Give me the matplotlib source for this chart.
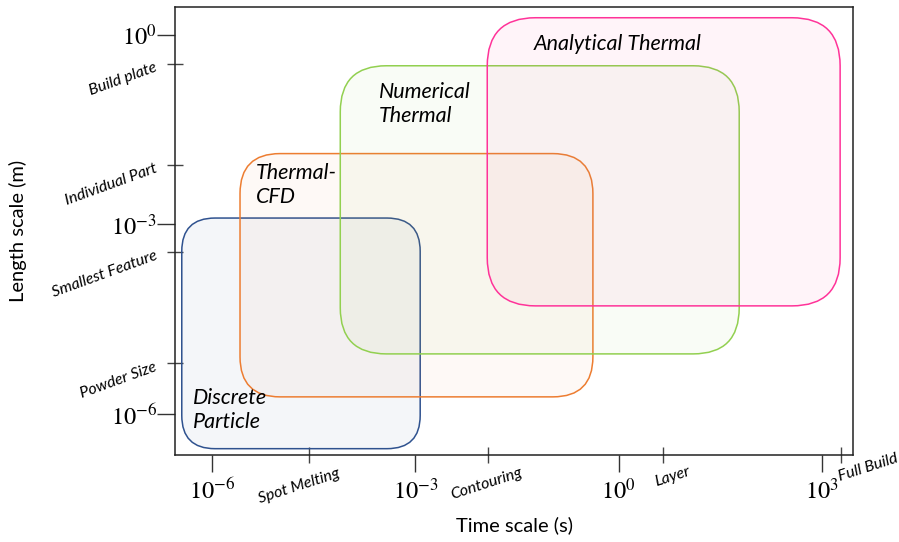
import matplotlib
matplotlib.use("Agg")
import matplotlib.pyplot as plt
from matplotlib.patches import FancyBboxPatch
from matplotlib.colors import to_rgb
from matplotlib.transforms import blended_transform_factory, offset_copy

plt.rcParams['font.family'] = ['Lato', 'DejaVu Sans']
plt.rcParams['mathtext.fontset'] = 'stix'

# ---------------- data (log10 units) ----------------
models = ["Discrete\nParticle", "Thermal-\nCFD", "Numerical\nThermal", "Analytical Thermal"]
t_lo = [-6.45, -5.59, -4.11, -1.94]     # time extent, log10(s)
t_hi = [-2.93, -0.38, 1.78, 3.27]
L_lo = [-6.55, -5.73, -5.05, -4.29]     # length extent, log10(m)
L_hi = [-2.90, -1.88, -0.49, 0.27]
edge = ["#2F528F", "#ED7D31", "#92D050", "#FF3399"]

decades = [-6, -3, 0, 3]
t_names = ["Spot Melting", "Contouring", "Layer", "Full Build"]
t_marks = [-4.57, -1.93, 0.66, 3.28]
L_names = ["Build plate", "Individual Part", "Smallest Feature", "Powder Size"]
L_marks = [-0.46, -2.06, -3.44, -5.19]

# ---------------- layout ----------------
corner = [0.49, 0.59, 0.68, 0.71]        # rounding radius (x units)
alpha = [0.05, 0.045, 0.05, 0.05]
text_xy = [(-6.28, -5.94), (-5.35, -2.38), (-3.54, -1.10), (-1.26, -0.14)]
t_off = [(-9.5, -31), (-1, -29), (9, -22), (27, -13)]   # label centre offsets, px

fig = plt.figure(figsize=(8.99, 5.42), dpi=100)
ax = fig.add_axes([175 / 899, 1 - 455 / 542, 678 / 899, 448 / 542])
ax.set_xlim(-6.55, 3.46)
ax.set_ylim(-6.65, 0.44)

for i in range(len(models)):
    fc = (*to_rgb(edge[i]), alpha[i])
    box = FancyBboxPatch((t_lo[i], L_lo[i]), t_hi[i] - t_lo[i], L_hi[i] - L_lo[i],
                         boxstyle=f"round,pad=0,rounding_size={corner[i]}",
                         mutation_aspect=1.072, fc=fc, ec=edge[i], lw=1.1, zorder=2)
    ax.add_patch(box)
    ax.text(*text_xy[i], models[i], fontsize=15.5, style='italic', ha='left',
            va='center', linespacing=1.25, zorder=5)

for s in ax.spines.values():
    s.set_color('#222222')
    s.set_linewidth(1.1)

ax.set_xticks(decades)
ax.set_xticklabels([f"$10^{{{d}}}$" for d in decades], fontsize=17.5)
ax.set_yticks(decades[:3])
ax.set_yticklabels([f"$10^{{{d}}}$" for d in decades[:3]], fontsize=17.5)
ax.tick_params(axis='x', which='major', length=12, width=1, color='#333333', pad=4)
ax.tick_params(axis='y', which='major', length=13, width=1, color='#333333', pad=0)
ax.set_xticks(t_marks, minor=True)
ax.set_yticks(L_marks, minor=True)
ax.tick_params(which='minor', direction='inout', length=12, width=1, color='#444444',
               labelbottom=False, labelleft=False)

bx = blended_transform_factory(ax.transData, ax.transAxes)
for name, m, (dx, dy) in zip(t_names, t_marks, t_off):
    tr = offset_copy(bx, fig=fig, x=dx, y=dy, units='dots')
    ax.text(m, 0, name, transform=tr, fontsize=11.5, style='italic', rotation=18,
            ha='center', va='center', clip_on=False)

by = blended_transform_factory(ax.transAxes, ax.transData)
for name, m in zip(L_names, L_marks):
    tr = offset_copy(by, fig=fig, x=-16, y=3, units='dots')
    ax.text(0, m, name, transform=tr, fontsize=11.5, style='italic', rotation=20,
            ha='right', va='top', clip_on=False)

fig.text(514 / 899, 1 - 525 / 542, "Time scale (s)", fontsize=14.5, ha='center', va='center')
fig.text(18 / 899, 1 - 231 / 542, "Length scale (m)", fontsize=14.5, rotation=90,
         ha='center', va='center')

fig.savefig("out.png", dpi=100)
